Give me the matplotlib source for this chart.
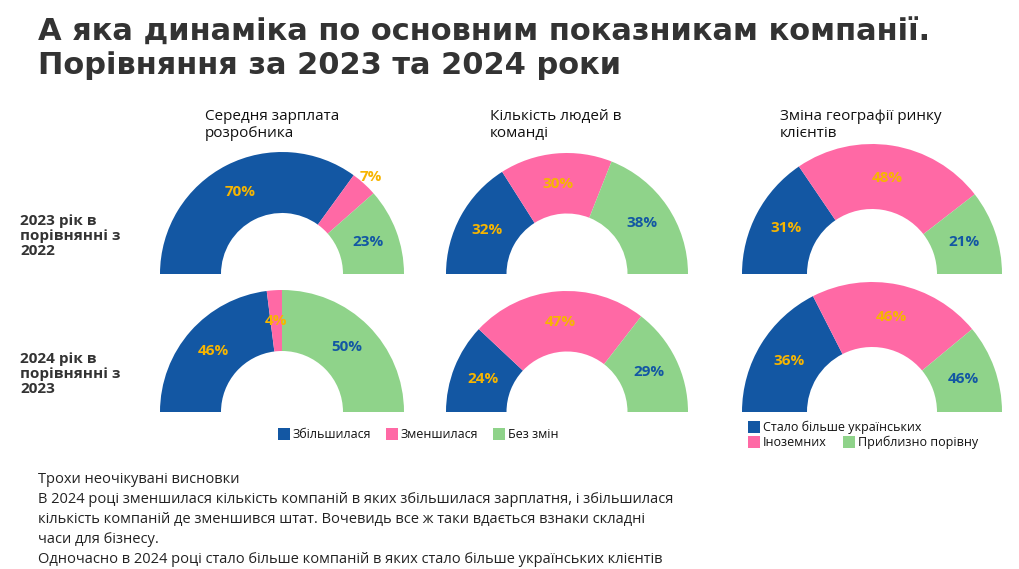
import math
import matplotlib.pyplot as plt
from matplotlib.patches import Wedge, Rectangle

plt.rcParams['font.family'] = ['Open Sans', 'DejaVu Sans']

W, H = 1020, 569
BLUE, PINK, GREEN = "#1357a3", "#ff69a5", "#8fd38a"
YEL = "#f7b500"
DARK = "#333333"

titles = ["Середня зарплата\nрозробника", "Кількість людей в\nкоманді", "Зміна географії ринку\nклієнтів"]
row_labels = ["2023 рік в\nпорівнянні з\n2022", "2024 рік в\nпорівнянні з\n2023"]
# wedge shares (blue, pink, green) as drawn, and printed labels
shares = [
    [[70, 7, 23], [32, 30, 38], [31, 48, 21]],
    [[46, 4, 50], [24, 47, 29], [35, 43, 22]],
]
labels = [
    [["70%", "7%", "23%"], ["32%", "30%", "38%"], ["31%", "48%", "21%"]],
    [["46%", "4%", "50%"], ["24%", "47%", "29%"], ["36%", "46%", "46%"]],
]
legend1 = ["Збільшилася", "Зменшилася", "Без змін"]
legend3 = ["Стало більше українських", "Іноземних", "Приблизно порівну"]

fig = plt.figure(figsize=(W / 100, H / 100), dpi=100)
ax = fig.add_axes([0, 0, 1, 1])
ax.set_xlim(0, W)
ax.set_ylim(0, H)
ax.set_aspect('equal')
ax.axis('off')

def Y(y):
    return H - y

fig.text(38 / W, 1 - 49 / H, "А яка динаміка по основним показникам компанії.\nПорівняння за 2023 та 2024 роки",
         fontsize=22, fontweight='bold', color=DARK, va='center', linespacing=1.15,
         family=['DejaVu Sans'])

cx = [282, 567, 872]
rad = [122, 121, 130]
base = [274, 412]
for r, b in enumerate(base):
    fig.text(20 / W, 1 - (b - 38) / H, row_labels[r], fontsize=11, fontweight='bold', color=DARK,
             va='center', linespacing=1.1)
    for c in range(3):
        R = rad[c]
        start = 180.0
        vals = shares[r][c]
        tot = sum(vals)
        for k, (v, col) in enumerate(zip(vals, [BLUE, PINK, GREEN])):
            ang = 180.0 * v / tot
            ax.add_patch(Wedge((cx[c], Y(b)), R, start - ang, start, width=R * 0.5,
                               facecolor=col, edgecolor='white', linewidth=0))
            mid = math.radians(start - ang / 2)
            rr = R * 0.75 if (v >= 10 or r == 1) else R * 1.08
            tc = BLUE if col == GREEN else YEL
            ax.text(cx[c] + rr * math.cos(mid), Y(b) + rr * math.sin(mid), labels[r][c][k],
                    ha='center', va='center', fontsize=11, fontweight='bold', color=tc)
            start -= ang

for c, t in enumerate(titles):
    ax.text([205, 490, 780][c], Y(125), t, fontsize=11, color='#111111', va='center', linespacing=1.1)

# legends
for x, lab, col in zip([278, 386, 493], legend1, [BLUE, PINK, GREEN]):
    ax.add_patch(Rectangle((x, Y(440)), 12, 12, facecolor=col))
    ax.text(x + 15, Y(434), lab, fontsize=9, va='center', color='#111111')
for (x, y), lab, col in zip([(748, 427), (748, 442), (843, 442)], legend3, [BLUE, PINK, GREEN]):
    ax.add_patch(Rectangle((x, Y(y + 6)), 12, 12, facecolor=col))
    ax.text(x + 15, Y(y), lab, fontsize=9, va='center', color='#111111')

body = ("Трохи неочікувані висновки\n"
        "В 2024 році зменшилася кількість компаній в яких збільшилася зарплатня, і збільшилася\n"
        "кількість компаній де зменшився штат. Вочевидь все ж таки вдається взнаки складні\n"
        "часи для бізнесу.\n"
        "Одночасно в 2024 році стало більше компаній в яких стало більше українських клієнтів")
ax.text(38, Y(472), body, fontsize=10.5, va='top', color='#222222', linespacing=1.45)

fig.savefig("out.png", dpi=100, facecolor='white')
